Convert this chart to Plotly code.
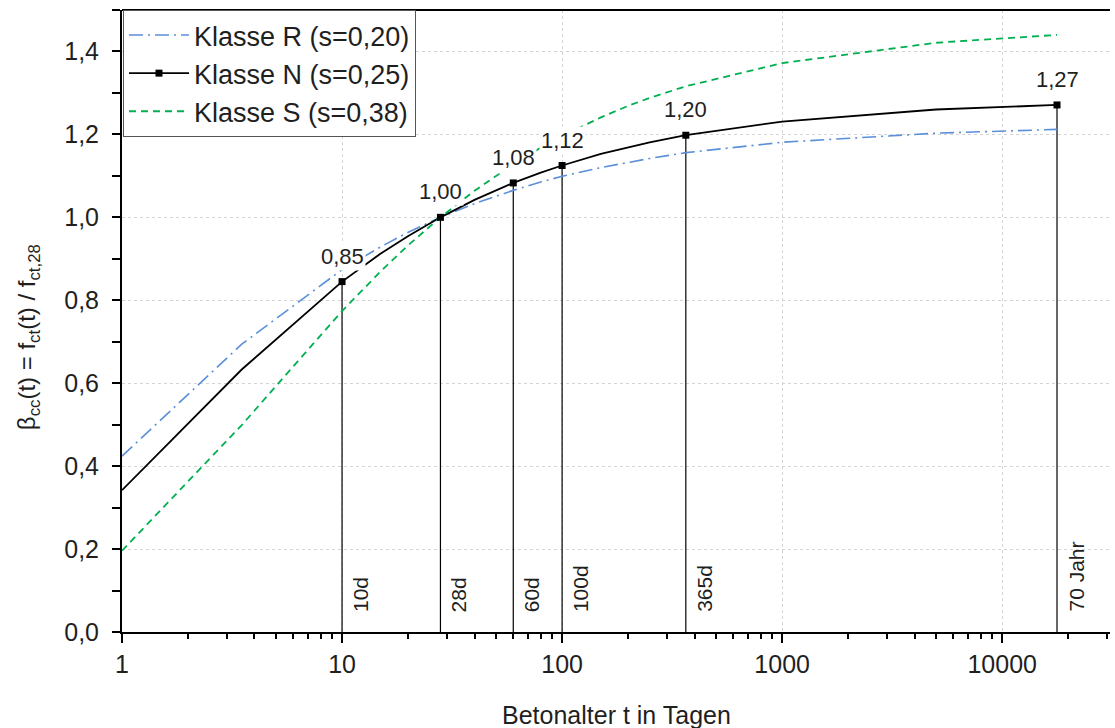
import math
import plotly.graph_objects as go

# ---- data ----
t_days = [1, 3.5, 10, 15, 20, 28, 40, 60, 80, 100, 150, 200, 250, 365, 1000, 5000, 17750]
beta_R = [0.424, 0.694, 0.874, 0.929, 0.964, 1.000, 1.033, 1.065, 1.085, 1.099, 1.120, 1.133,
          1.142, 1.156, 1.181, 1.203, 1.212]
beta_N = [0.342, 0.633, 0.845, 0.913, 0.955, 1.000, 1.042, 1.083, 1.108, 1.125, 1.153, 1.169,
          1.181, 1.198, 1.231, 1.260, 1.271]
beta_S = [0.196, 0.499, 0.774, 0.870, 0.933, 1.000, 1.064, 1.128, 1.168, 1.196, 1.241, 1.269,
          1.288, 1.316, 1.372, 1.421, 1.440]

mark_t = [10, 28, 60, 100, 365, 17750]
mark_v = [0.845, 1.000, 1.083, 1.125, 1.198, 1.271]
mark_lbl = ["0,85", "1,00", "1,08", "1,12", "1,20", "1,27"]
age_lbl = ["10d", "28d", "60d", "100d", "365d", "70 Jahr"]

series_names = ["Klasse R (s=0,20)", "Klasse N (s=0,25)", "Klasse S (s=0,38)"]
x_tick_vals = [1, 10, 100, 1000, 10000]
x_tick_text = ["1", "10", "100", "1000", "10000"]
x_minor_vals = [m * d for d in (1, 10, 100, 1000) for m in range(2, 10)] + [20000, 30000]

FONT = "Liberation Sans, Arial, sans-serif"
TXT = "#1f1f1f"

fig = go.Figure()

# vertical drop lines
vx, vy = [], []
for t, v in zip(mark_t, mark_v):
    vx += [t, t, None]
    vy += [0, v, None]
fig.add_trace(go.Scatter(x=vx, y=vy, mode="lines", line=dict(color="#000000", width=1.2),
                         showlegend=False, hoverinfo="skip"))

fig.add_trace(go.Scatter(x=t_days, y=beta_R, mode="lines", name=series_names[0],
                         legendgroup="R",
                         line=dict(color="#5B8FD9", width=1.6, dash="14px,5px,2px,5px")))
fig.add_trace(go.Scatter(x=t_days, y=beta_N, mode="lines", name=series_names[1],
                         showlegend=False, line=dict(color="#000000", width=1.8)))
fig.add_trace(go.Scatter(x=[None], y=[None], mode="lines+markers", name=series_names[1],
                         legendgroup="N",
                         line=dict(color="#000000", width=1.8),
                         marker=dict(symbol="square", size=7, color="#000000")))
fig.add_trace(go.Scatter(x=t_days, y=beta_S, mode="lines", name=series_names[2],
                         legendgroup="S",
                         line=dict(color="#00B050", width=1.8, dash="7px,5px")))
fig.add_trace(go.Scatter(x=mark_t, y=mark_v, mode="markers", showlegend=False,
                         marker=dict(symbol="square", size=7, color="#000000")))

# value labels (white background masks lines, as in the reference)
for t, v, s in zip(mark_t, mark_v, mark_lbl):
    fig.add_annotation(x=math.log10(t), y=v, xref="x", yref="y", text=s, showarrow=False,
                       xanchor="center", yanchor="bottom", yshift=11,
                       bgcolor="white", borderpad=1,
                       font=dict(family=FONT, size=22, color=TXT))
# age labels
for t, s in zip(mark_t, age_lbl):
    fig.add_annotation(x=math.log10(t), y=0, xref="x", yref="y", text=s, showarrow=False,
                       textangle=-90, xanchor="left", yanchor="bottom",
                       xshift=5, yshift=18,
                       font=dict(family=FONT, size=21, color=TXT))

# axis titles
fig.add_annotation(x=0.5, y=-0.1334, xref="paper", yref="paper", showarrow=False,
                   text="Betonalter t in Tagen", xanchor="center", yanchor="middle",
                   font=dict(family=FONT, size=25, color=TXT))
fig.add_annotation(x=0, y=0.474, xref="paper", yref="paper", showarrow=False,
                   xshift=-94, textangle=-90, xanchor="center", yanchor="middle",
                   text="β<sub>cc</sub>(t) = f<sub>ct</sub>(t) / f<sub>ct,28</sub>",
                   font=dict(family=FONT, size=24, color=TXT))

# top border line and small extension of the x axis to the left
fig.add_shape(type="line", xref="paper", yref="paper", x0=0, x1=1, y0=1, y1=1,
              line=dict(color="#000000", width=2))
fig.add_shape(type="line", xref="paper", yref="paper", x0=-0.008, x1=0, y0=0, y1=0,
              line=dict(color="#000000", width=2))

fig.update_layout(
    width=1115, height=728,
    margin=dict(l=122, r=5, t=10, b=96, autoexpand=False),
    paper_bgcolor="white", plot_bgcolor="white",
    separators=",.",
    font=dict(family=FONT, size=24, color=TXT),
    legend=dict(x=0.001, y=1, xanchor="left", yanchor="top",
                bgcolor="white", bordercolor="#555555", borderwidth=1,
                font=dict(family=FONT, size=27, color=TXT),
                tracegroupgap=0, itemwidth=60),
)

fig.update_xaxes(
    type="log", range=[0, 4.49], automargin=False,
    tickmode="array", tickvals=x_tick_vals, ticktext=x_tick_text,
    ticks="outside", ticklen=9, tickwidth=1.5, tickcolor="#000000",
    showline=True, linecolor="#000000", linewidth=2,
    showgrid=True, gridcolor="#d4d4d4", gridwidth=1, griddash="dot",
    zeroline=False,
    minor=dict(tickmode="array", tickvals=x_minor_vals, ticks="outside",
               ticklen=5, tickwidth=1.5, tickcolor="#000000", showgrid=False),
    tickfont=dict(family=FONT, size=25, color=TXT),
)

fig.update_yaxes(
    range=[0, 1.5], tick0=0, dtick=0.2, tickformat=".1f", automargin=False,
    ticks="outside", ticklen=8, tickwidth=1.5, tickcolor="#000000",
    showline=True, linecolor="#000000", linewidth=2,
    showgrid=True, gridcolor="#d4d4d4", gridwidth=1, griddash="dot",
    zeroline=False, ticklabelstandoff=8,
    minor=dict(dtick=0.1, ticks="outside", ticklen=8, tickwidth=1.5,
               tickcolor="#000000", showgrid=False),
    tickfont=dict(family=FONT, size=25, color=TXT),
)

fig.write_html("out.html", config={"displayModeBar": False},
               post_script="document.body.style.margin='0';document.body.style.overflow='hidden';")
